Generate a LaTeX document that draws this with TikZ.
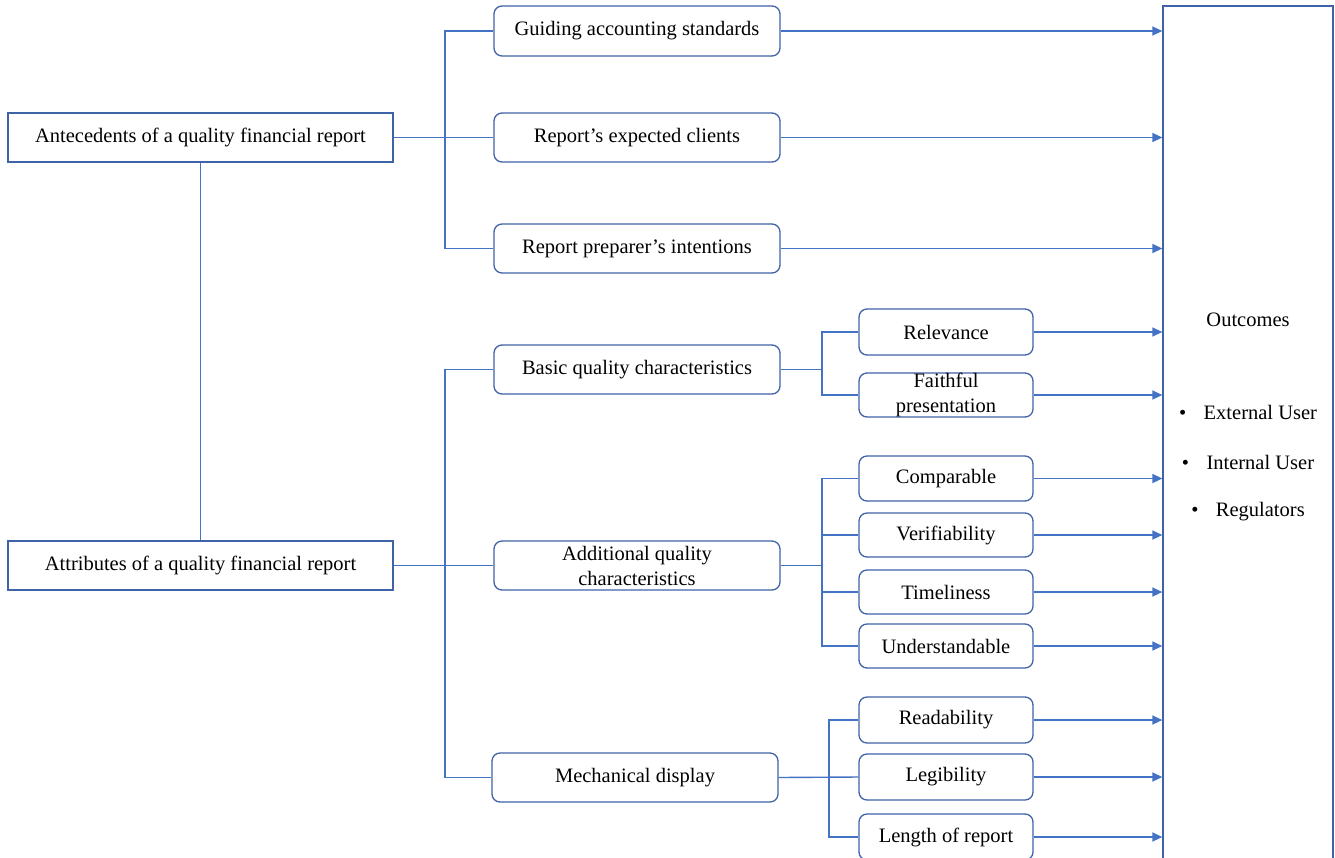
\documentclass[tikz,border=0pt]{standalone}
\usepackage{fontspec}
\setmainfont{Liberation Serif}
\usetikzlibrary{arrows.meta}
\definecolor{lineblue}{HTML}{4472C4}
\definecolor{boxblue}{HTML}{3F63A6}
\begin{document}
\begin{tikzpicture}[x=1pt,y=-1pt,
  sqbox/.style={draw=boxblue, line width=1.3pt, fill=white, inner sep=0pt, font=\fontsize{20.5}{25}\selectfont, align=center},
  rbox/.style={sqbox, rounded corners=8pt},
  txt/.style={inner sep=0pt, font=\fontsize{20.5}{25}\selectfont},
  conn/.style={draw=lineblue, line width=1.4pt},
  arr/.style={conn, -{Triangle[length=10pt,width=9pt]}}]
\useasboundingbox (0,0) rectangle (1335,857);
\fill[white] (0,0) rectangle (1335,857);
% left boxes
\node[sqbox, minimum width=385pt, minimum height=49pt] (ante) at (200.5,137.5) {Antecedents of a quality financial report};
\node[sqbox, minimum width=385pt, minimum height=49pt] (attr) at (200.5,565.5) {Attributes of a quality financial report};
% middle boxes
\node[rbox, minimum width=286pt, minimum height=50pt] (guide) at (637,31) {Guiding accounting standards};
\node[rbox, minimum width=286pt, minimum height=49pt] (clients) at (637,137.5) {Report’s expected clients};
\node[rbox, minimum width=286pt, minimum height=49pt] (prep) at (637,248.5) {Report preparer’s intentions};
\node[rbox, minimum width=286pt, minimum height=49pt] (basic) at (637,369.5) {Basic quality characteristics};
\node[rbox, minimum width=286pt, minimum height=49pt] (addl) at (637,565.5) {Additional quality\\characteristics};
\node[rbox, minimum width=286pt, minimum height=49pt] (mech) at (635,777.5) {Mechanical display};
% outcomes box
\node[sqbox, minimum width=170pt, minimum height=894pt] (out) at (1248,453) {};
\node[txt] (oc) at (1248,320) {Outcomes};
\node[txt] (ext) at (1248,412) {\textbullet\hspace{0.85em}External User};
\node[txt] (int) at (1248,462) {\textbullet\hspace{0.85em}Internal User};
\node[txt] (reg) at (1248,512) {\textbullet\hspace{0.85em}Regulators};
% right boxes
\node[rbox, minimum width=174pt, minimum height=46pt] (rel) at (946,332) {Relevance};
\node[rbox, minimum width=174pt, minimum height=44pt] (faith) at (946,395) {Faithful\\presentation};
\node[rbox, minimum width=174pt, minimum height=45pt] (comp) at (946,478.5) {Comparable};
\node[rbox, minimum width=174pt, minimum height=44pt] (verif) at (946,535) {Verifiability};
\node[rbox, minimum width=174pt, minimum height=44pt] (time) at (946,592) {Timeliness};
\node[rbox, minimum width=174pt, minimum height=44pt] (under) at (946,646) {Understandable};
\node[rbox, minimum width=174pt, minimum height=46pt] (read) at (946,720) {Readability};
\node[rbox, minimum width=174pt, minimum height=46pt] (leg) at (946,777) {Legibility};
\node[rbox, minimum width=174pt, minimum height=46pt] (len) at (946,837) {Length of report};
% junctions
\coordinate (ja) at (445,137.5);
\coordinate (jb) at (445,565.5);
\coordinate (jc) at (822,369.5);
\coordinate (jd) at (822,565.5);
\coordinate (je) at (829,777.5);
% connectors
\draw[conn] (ante.south) -- (attr.north);
\draw[conn] (ante.east) -- (clients.west);
\draw[conn] (guide.west) -| (ja) |- (prep.west);
\draw[conn] (attr.east) -- (addl.west);
\draw[conn] (basic.west) -| (jb) |- (mech.west);
\draw[conn] (basic.east) -- (jc);
\draw[conn] (rel.west) -| (jc) |- (faith.west);
\draw[conn] (addl.east) -- (jd);
\draw[conn] (comp.west) -| (jd) |- (under.west);
\draw[conn] (verif.west) -| (jd);
\draw[conn] (time.west) -| (jd);
\draw[conn] (mech.east) -- (leg.west);
\draw[conn] (read.west) -| (je) |- (len.west);
% arrows to outcomes
\foreach \n in {guide,clients,prep,rel,faith,comp,verif,time,under,read,leg,len}
  \draw[arr] (\n.east) -- (\n.east -| out.west);
\end{tikzpicture}
\end{document}
